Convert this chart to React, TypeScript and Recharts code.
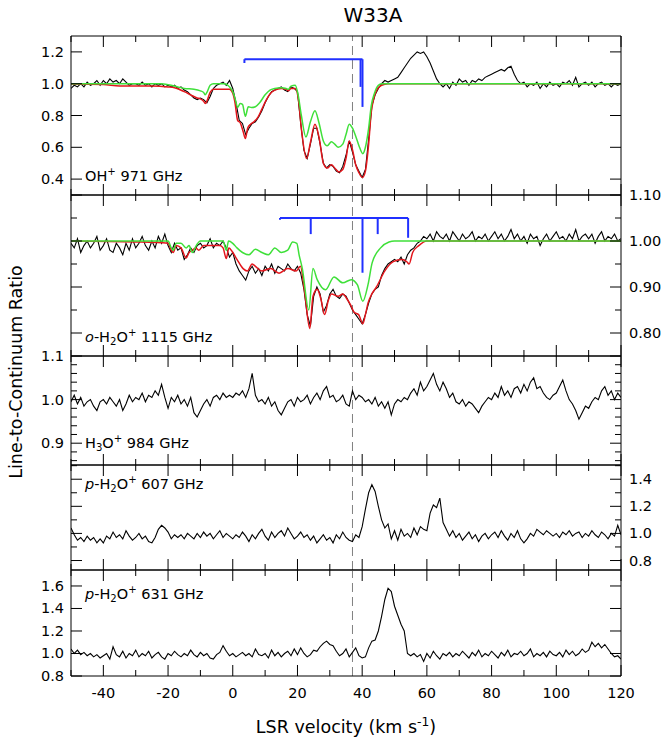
import React from 'react';
import { Line, LineChart, ReferenceLine, XAxis, YAxis } from 'recharts';

const FONT = '"DejaVu Sans", Verdana, sans-serif';
const W = 663;
const PLOT_LEFT = 71;
const PLOT_RIGHT = 621;
const PAD = 14;

// spectra are sampled on a 1 km/s channel grid starting at -50 km/s
const VEL_START = -50;
const VEL_STEP = 1;
const VSYS = 37;

const velTicks = [-50, -40, -30, -20, -10, 0, 10, 20, 30, 40, 50, 60, 70, 80, 90, 100, 110, 120];
const velLabels = [-40, -20, 0, 20, 40, 60, 80, 100, 120];

// OH+ 971 GHz
const ohFlux = [
  0.97, 0.99, 0.98, 1.0, 0.98, 1.01, 0.99, 1.0, 1.02, 0.99,
  1.02, 1.0, 1.03, 1.01, 1.02, 1.0, 1.03, 1.01, 0.99, 1.0,
  1.0, 0.99, 1.01, 0.99, 1.0, 0.98, 1.0, 0.99, 1.0, 0.98,
  0.99, 0.98, 0.99, 0.97, 0.98, 0.96, 0.95, 0.93, 0.91, 0.9,
  0.91, 0.9, 0.88, 0.92, 0.97, 0.99, 1.0, 1.01, 0.99, 1.02,
  0.97, 0.88, 0.77, 0.75, 0.68, 0.72, 0.75, 0.76, 0.79, 0.83,
  0.88, 0.92, 0.95, 0.96, 0.97, 0.98, 0.96, 0.95, 0.98, 0.97,
  0.95, 0.75, 0.58, 0.53, 0.62, 0.72, 0.72, 0.62, 0.5, 0.47,
  0.49, 0.48, 0.45, 0.44, 0.48, 0.55, 0.64, 0.57, 0.49, 0.45,
  0.41, 0.46, 0.65, 0.86, 0.93, 0.97, 1.0, 1.02, 1.01, 1.02,
  1.03, 1.04, 1.07, 1.1, 1.13, 1.16, 1.18, 1.2, 1.19, 1.2,
  1.17, 1.13, 1.08, 1.03, 1.0, 0.98, 1.0, 0.97, 1.01, 0.99,
  1.03, 1.01, 1.02, 0.99, 1.02, 1.01, 1.03, 1.02, 1.04, 1.05,
  1.06, 1.07, 1.08, 1.09, 1.08, 1.1, 1.11, 1.06, 1.02, 1.0,
  1.01, 0.98, 1.0, 0.99, 1.01, 0.97, 1.0, 0.98, 1.01, 0.99,
  1.0, 0.98, 1.01, 1.0, 1.02, 0.99, 1.04, 0.98, 1.0, 1.01,
  0.99, 1.01, 0.98, 1.0, 1.01, 0.99, 1.0, 0.98, 1.0, 0.99,
  1.0,
];

const ohRed = [
  [-50, 0.998], [-40, 0.995], [-35, 0.985], [-25, 0.985], [-20, 0.98], [-18, 0.975],
  [-15, 0.95], [-13, 0.93], [-11, 0.91], [-10, 0.905], [-9, 0.89], [-8.5, 0.875],
  [-8, 0.89], [-7, 0.945], [-6, 0.965], [-1, 0.965], [0, 0.94], [0.7, 0.88],
  [1.5, 0.77], [2.3, 0.755], [3.2, 0.7], [3.9, 0.655], [4.6, 0.72], [5.5, 0.745],
  [6.5, 0.76], [7.8, 0.79], [9, 0.84], [10.4, 0.9], [11.7, 0.94], [13, 0.96],
  [15, 0.97], [16.5, 0.965], [17.2, 0.955], [18, 0.97], [19.3, 0.97], [20.3, 0.9],
  [21.3, 0.7], [22.8, 0.53], [24, 0.63], [25.4, 0.745], [26.7, 0.66], [28, 0.5],
  [29.2, 0.47], [30.5, 0.49], [31.5, 0.47], [32.8, 0.445], [34, 0.46], [35, 0.53],
  [36, 0.64], [37, 0.585], [38, 0.49], [39, 0.44], [40.1, 0.41], [41, 0.45],
  [42, 0.62], [42.8, 0.82], [43.5, 0.9], [44.5, 0.96], [46, 0.99], [48, 1.0], [120, 1.0],
];

const ohGreen = [
  [-50, 1.0], [-22, 1.0], [-18, 0.985], [-15, 0.97], [-12, 0.965], [-10, 0.955],
  [-9, 0.945], [-8.5, 0.93], [-8, 0.945], [-7, 0.99], [-6, 1.0], [-2.5, 1.0],
  [-1, 0.98], [0, 0.95], [0.8, 0.9], [1.5, 0.85], [2.3, 0.875], [3, 0.87],
  [3.9, 0.795], [4.8, 0.855], [5.8, 0.85], [7, 0.855], [8.3, 0.88], [10, 0.93],
  [11.5, 0.96], [13, 0.97], [15, 0.975], [16.5, 0.97], [17.2, 0.965], [18, 0.985],
  [19.3, 0.99], [20.2, 0.93], [21.2, 0.8], [22.6, 0.665], [24, 0.76], [25.4, 0.83],
  [26.7, 0.75], [28, 0.64], [29.2, 0.61], [30.5, 0.635], [31.5, 0.62], [32.6, 0.6],
  [34, 0.62], [35, 0.68], [36, 0.745], [37, 0.72], [38, 0.67], [39, 0.61],
  [40.2, 0.56], [41, 0.6], [42, 0.72], [42.8, 0.86], [43.8, 0.94], [45, 0.99],
  [46, 1.0], [120, 1.0],
];

const ohHfsVel = [3.6, 39.5, 40.1];
const ohHfsEnd = [1.13, 0.98, 0.854];
const ohHfsBar = 1.154;

// o-H2O+ 1115 GHz
const h2oFlux = [
  0.995, 0.985, 1.005, 0.975, 0.99, 1.0, 0.985, 0.995, 1.01, 0.98,
  0.99, 1.005, 0.98, 0.975, 0.995, 0.985, 0.97, 0.995, 0.98, 1.005,
  0.985, 0.995, 1.01, 0.99, 0.98, 1.0, 0.985, 1.01, 0.995, 1.015,
  0.99, 0.975, 0.995, 0.98, 0.985, 0.96, 0.97, 0.985, 0.975, 0.99,
  0.995, 0.985, 0.99, 1.005, 0.985, 0.995, 0.99, 1.0, 0.985, 0.965,
  0.975, 0.95, 0.935, 0.925, 0.915, 0.935, 0.945, 0.93, 0.94, 0.925,
  0.945, 0.935, 0.95, 0.93, 0.945, 0.94, 0.935, 0.95, 0.94, 0.935,
  0.945, 0.93, 0.895, 0.84, 0.815, 0.88, 0.9, 0.885, 0.845, 0.86,
  0.885, 0.895, 0.88, 0.875, 0.885, 0.88, 0.865, 0.85, 0.84, 0.83,
  0.82, 0.84, 0.865, 0.885, 0.895, 0.9, 0.925, 0.94, 0.95, 0.955,
  0.96, 0.955, 0.965, 0.95, 0.97, 0.98, 0.985, 0.995, 1.0, 1.01,
  1.005, 1.015, 1.0, 1.02, 1.01, 1.005, 1.015, 1.0, 1.02, 1.01,
  1.0, 1.015, 1.005, 1.01, 1.02, 1.0, 1.01, 1.005, 1.015, 1.0,
  1.01, 1.02, 1.005, 1.015, 1.0, 1.01, 1.025, 1.005, 1.015, 1.0,
  1.01, 0.995, 1.015, 1.005, 1.01, 0.99, 1.005, 1.015, 1.0, 1.01,
  1.02, 1.005, 1.01, 1.0, 1.015, 1.005, 1.025, 1.0, 1.01, 1.015,
  1.005, 1.015, 0.995, 1.01, 1.02, 1.0, 1.01, 1.005, 1.015, 1.0,
  1.005,
];

const h2oRed = [
  [-50, 1.0], [-30, 0.998], [-20, 0.995], [-19, 0.98], [-18.4, 0.975], [-17.5, 0.99],
  [-16, 0.985], [-14.4, 0.963], [-13.5, 0.975], [-12.5, 0.98], [-11.5, 0.985], [-10.5, 0.98],
  [-9, 0.99], [-4, 0.99], [-3, 0.985], [-2, 0.962], [-1.2, 0.985], [0, 0.975],
  [1.3, 0.96], [3.2, 0.94], [4.5, 0.935], [6, 0.95], [7, 0.945], [9, 0.935],
  [11.7, 0.94], [14.3, 0.93], [17, 0.94], [19.6, 0.935], [20.9, 0.945], [22.2, 0.89],
  [23.8, 0.81], [24.8, 0.88], [26.1, 0.895], [27.2, 0.875], [28.4, 0.84], [29.5, 0.87],
  [30.5, 0.885], [32.6, 0.88], [34, 0.885], [35.2, 0.875], [36.5, 0.86], [37.5, 0.845],
  [38.9, 0.84], [39.5, 0.83], [40.2, 0.82], [41, 0.84], [41.8, 0.865], [43, 0.885],
  [44.4, 0.9], [47, 0.935], [49.6, 0.955], [52.3, 0.96], [53.8, 0.955], [54.5, 0.95],
  [55.6, 0.975], [57.5, 0.99], [60, 1.0], [120, 1.0],
];

const h2oGreen = [
  [-50, 1.0], [-20, 1.0], [-19, 0.985], [-18.4, 0.98], [-17.5, 0.995], [-16, 0.995],
  [-14.4, 0.985], [-13.5, 0.99], [-12.5, 0.975], [-11.3, 0.99], [-10, 1.0], [-3, 1.0],
  [-2, 0.98], [-1.3, 1.0], [0, 0.995], [1.3, 0.985], [3, 0.975], [5, 0.97],
  [7, 0.982], [9, 0.975], [11, 0.97], [13, 0.985], [15, 0.975], [17, 0.98],
  [18.5, 0.998], [19.8, 0.995], [20.5, 0.97], [21.5, 0.94], [23.5, 0.85], [24.8, 0.94],
  [26.1, 0.916], [28.7, 0.894], [31.3, 0.922], [34, 0.909], [36.6, 0.916], [38.5, 0.905],
  [40.2, 0.869], [41.8, 0.905], [43.1, 0.953], [45.7, 0.985], [48.3, 0.998], [50, 1.0],
  [120, 1.0],
];

const h2oHfsVel = [14.6, 24.1, 40.1, 44.8, 54.2];
const h2oHfsEnd = [1.046, 1.015, 0.931, 1.015, 1.007];
const h2oHfsBar = 1.05;

// H3O+ 984 GHz
const h3oFlux = [
  0.995, 1.01, 0.99, 1.005, 0.985, 0.995, 1.0, 0.985, 0.975, 0.995,
  1.0, 0.99, 1.005, 0.995, 0.985, 1.0, 0.975, 0.99, 1.01, 0.995,
  1.005, 1.0, 1.015, 0.995, 1.01, 1.005, 1.02, 1.01, 1.035, 1.005,
  0.98, 1.005, 0.995, 1.01, 0.99, 1.0, 0.985, 1.005, 0.97, 0.96,
  0.975, 0.99, 1.0, 0.985, 1.005, 1.01, 1.0, 1.015, 1.005, 1.01,
  1.005, 1.015, 1.01, 1.02, 1.005, 1.025, 1.06, 1.01, 0.995, 1.0,
  0.99, 1.005, 0.985, 0.995, 0.975, 0.965, 0.98, 0.995, 1.0, 0.985,
  1.005, 0.995, 1.0, 1.01, 0.99, 1.005, 1.015, 1.0, 1.02, 1.03,
  1.005, 1.01, 0.995, 1.0, 1.01, 0.99, 0.985, 1.02, 1.0, 1.01,
  1.005, 0.995, 1.0, 0.99, 1.005, 0.985, 0.995, 0.98, 0.995, 0.965,
  0.99, 1.0, 0.995, 1.005, 1.0, 1.015, 1.025, 1.01, 1.04, 1.02,
  1.03, 1.045, 1.06, 1.035, 1.02, 1.04, 1.025, 1.005, 1.015, 0.995,
  0.99, 1.0, 0.985, 0.995, 0.99, 0.98, 0.97, 0.985, 0.995, 1.005,
  1.0, 1.015, 1.005, 1.03, 1.01, 1.02, 1.005, 1.025, 1.03, 1.015,
  1.035, 1.02, 1.04, 1.05, 1.025, 1.03, 1.015, 1.005, 1.0, 1.01,
  1.015, 1.03, 1.045, 1.02, 1.0, 0.99, 0.975, 0.955, 0.97, 0.985,
  0.98, 0.995, 1.005, 1.0, 1.02, 1.03, 1.01, 1.02, 1.0, 1.015,
  1.005,
];

// p-H2O+ 607 GHz
const p607Flux = [
  1.04, 0.99, 0.95, 0.97, 0.94, 0.98, 0.95, 0.97, 0.93, 0.96,
  0.93, 0.98, 0.96, 1.01, 0.97, 0.99, 0.96, 1.02, 0.98, 0.95,
  0.97, 1.0, 0.96, 0.98, 0.94, 0.93, 0.97, 1.03, 1.06, 1.04,
  1.01, 0.96, 0.99, 0.97, 0.99, 0.96, 1.0, 0.98, 0.96, 1.0,
  0.97, 1.01, 0.98, 1.0, 0.96, 0.99, 1.02, 0.97, 1.0, 0.98,
  0.96, 0.99, 0.97, 1.01, 0.98, 0.94, 0.99, 0.96, 1.0, 1.03,
  0.98, 0.95, 1.01, 0.97, 1.0, 1.02, 0.98, 1.04, 1.0, 0.96,
  0.98, 1.01, 0.97, 0.99, 0.95, 0.98, 0.93, 0.96, 0.99, 0.95,
  0.97, 0.93, 0.99, 0.96, 1.01, 0.97, 0.95, 0.94, 0.99, 0.97,
  1.05, 1.18, 1.3, 1.36, 1.31, 1.2, 1.1, 1.04, 1.07, 0.96,
  1.02, 0.95, 1.03, 0.98, 1.0, 0.97, 1.04, 0.99, 1.05, 1.03,
  1.02, 1.15, 1.21, 1.19, 1.26, 1.08, 1.03, 0.98, 1.02, 0.97,
  1.0, 0.95, 0.98, 1.01, 0.96, 0.99, 0.94, 0.98, 1.0, 0.96,
  0.99, 1.01, 0.97, 1.02, 0.98, 0.95, 1.0, 0.97, 1.02, 0.96,
  0.93, 0.96, 1.0, 0.98, 1.03, 1.01, 0.99, 1.02, 1.0, 0.98,
  1.0, 0.97, 1.01, 0.99, 1.02, 0.98, 1.0, 1.01, 0.97, 1.0,
  0.98, 1.02, 0.99, 0.97, 1.01, 0.99, 0.96, 1.0, 0.98, 1.06,
  0.99,
];

// p-H2O+ 631 GHz
const p631Flux = [
  1.04, 1.0, 1.03, 0.99, 1.01, 0.98, 1.0, 0.97, 0.99, 0.96,
  0.98, 1.0, 0.95, 1.06, 0.99, 0.97, 1.02, 0.96, 1.0, 0.98,
  1.03, 0.97, 1.0, 0.98, 1.02, 0.96, 0.99, 1.01, 0.97, 0.95,
  1.0, 0.98, 1.02, 0.99, 0.97, 1.0, 0.98, 1.03, 0.99, 0.97,
  1.01, 0.98, 1.0, 0.96, 0.95, 0.99, 1.01, 1.07, 1.02, 0.98,
  1.0, 0.97, 0.99, 1.01, 0.98, 1.0, 0.97, 1.04, 0.99, 0.98,
  1.0, 0.96, 1.03, 0.98, 1.01, 0.97, 1.0, 1.02, 0.98, 1.04,
  0.99, 1.05, 1.0, 0.97, 0.99, 1.03, 1.02, 1.06, 1.09, 1.11,
  1.08, 1.07, 1.02, 0.98, 1.0, 1.04, 0.97, 1.01, 1.05, 0.98,
  0.96, 0.97, 1.05, 1.11, 1.12, 1.2, 1.33, 1.48, 1.58, 1.55,
  1.42, 1.34, 1.26, 1.2, 1.0, 0.98, 1.0, 0.97, 0.99, 0.93,
  1.0, 0.96, 1.02, 0.98, 0.95, 1.0, 0.98, 1.01, 0.97, 1.0,
  0.98, 1.02, 0.99, 0.96, 1.01, 0.98, 1.03, 0.97, 1.0, 0.98,
  1.02, 0.99, 0.96, 1.01, 0.98, 1.03, 0.97, 1.0, 0.99, 1.02,
  0.98, 1.0, 1.04, 0.97, 1.0, 0.98, 1.01, 0.97, 1.02, 0.99,
  0.98, 1.01, 0.97, 1.03, 0.99, 1.02, 0.98, 1.0, 1.04, 1.01,
  1.03, 1.1, 1.06, 1.09, 1.05, 1.08, 1.04, 1.0, 0.97, 0.98,
  0.95,
];

const spectrum = (flux: number[]) => flux.map((y, i) => ({ v: VEL_START + i * VEL_STEP, y }));
const model = (pts: number[][]) => pts.map(([v, y]) => ({ v, y }));

const near = (list: number[], v: number) => list.some((t) => Math.abs(t - v) < 1e-6);
const textStyle = { fontSize: 14.5, fontFamily: FONT, fill: '#000' };

function makeTick(side: string, labels: number[], major: number[], digits: number) {
  return (props: any) => {
    const { x, y, payload } = props;
    const val = payload.value;
    const len = near(major, val) ? 11 : 6;
    const label = near(labels, val) ? val.toFixed(digits) : null;
    if (side === 'bottom' || side === 'top') {
      const dir = side === 'bottom' ? -1 : 1;
      return (
        <g>
          <line x1={x} y1={y} x2={x} y2={y + dir * len} stroke="#000" />
          {label && (
            <text x={x} y={y + 17} textAnchor="middle" dominantBaseline="central" style={textStyle}>
              {label}
            </text>
          )}
        </g>
      );
    }
    const dir = side === 'left' ? 1 : -1;
    return (
      <g>
        <line x1={x} y1={y} x2={x + dir * len} y2={y} stroke="#000" />
        {label && (
          <text
            x={side === 'left' ? x - 7 : x + 8}
            y={y}
            textAnchor={side === 'left' ? 'end' : 'start'}
            dominantBaseline="central"
            style={textStyle}
          >
            {label}
          </text>
        )}
      </g>
    );
  };
}

// axes are 1px thick boxes (recharts skips zero-sized axes), margins compensate
function Panel({
  top, bottom, domain, yTicks, yMajor, yLabels, labelSide, digits, showVel = false, children,
}: any) {
  const padBottom = showVel ? 30 : PAD;
  const common = { type: 'number' as const, interval: 0 as const, tickSize: 0, tickMargin: 0, tickLine: false, axisLine: { stroke: '#000' }, allowDataOverflow: true };
  return (
    <div style={{ position: 'absolute', left: 0, top: top - PAD }}>
      <LineChart
        width={W}
        height={bottom - top + PAD + padBottom}
        margin={{ top: PAD - 1, bottom: padBottom - 1, left: PLOT_LEFT - 1, right: W - PLOT_RIGHT - 1 }}
      >
        <XAxis xAxisId="b" dataKey="v" domain={[-50, 120]} ticks={velTicks} height={1} {...common}
          tick={makeTick('bottom', showVel ? velLabels : [], velLabels, 0)} />
        <XAxis xAxisId="t" orientation="top" dataKey="v" domain={[-50, 120]} ticks={velTicks} height={1} {...common}
          tick={makeTick('top', [], velLabels, 0)} />
        <YAxis yAxisId="l" domain={domain} ticks={yTicks} width={1} {...common}
          tick={makeTick('left', labelSide === 'left' ? yLabels : [], yMajor, digits)} />
        <YAxis yAxisId="r" orientation="right" domain={domain} ticks={yTicks} width={1} {...common}
          tick={makeTick('right', labelSide === 'right' ? yLabels : [], yMajor, digits)} />
        <ReferenceLine x={VSYS} xAxisId="b" yAxisId="l" stroke="#808080" strokeDasharray="9 5" />
        {children}
      </LineChart>
    </div>
  );
}

function trace(key: string, data: any[], color: string, width: number, smooth = false) {
  return (
    <Line key={key} data={data} dataKey="y" xAxisId="b" yAxisId="l" type={smooth ? 'monotone' : 'linear'}
      dot={false} stroke={color} strokeWidth={width} isAnimationActive={false} />
  );
}

function hfs(key: string, vels: number[], ends: number[], bar: number) {
  const props = { xAxisId: 'b', yAxisId: 'l', stroke: '#2030ff', strokeWidth: 2 };
  return [
    <ReferenceLine key={key + 'bar'} segment={[{ x: vels[0], y: bar }, { x: vels[vels.length - 1], y: bar }]} {...props} />,
    ...vels.map((v, i) => (
      <ReferenceLine key={key + i} segment={[{ x: v, y: bar }, { x: v, y: ends[i] }]} {...props} />
    )),
  ];
}

const Sup = ({ children }: any) => (
  <span style={{ fontSize: '0.7em', position: 'relative', top: '-0.55em' }}>{children}</span>
);
const Sub = ({ children }: any) => (
  <span style={{ fontSize: '0.7em', position: 'relative', top: '0.3em' }}>{children}</span>
);

function Tag({ y, children }: any) {
  return (
    <div style={{ position: 'absolute', left: 85, top: y - 9, fontFamily: FONT, fontSize: 14.5, lineHeight: '18px', whiteSpace: 'nowrap' }}>
      {children}
    </div>
  );
}

const BLACK = '#000';
const RED = '#e3161c';
const GREEN = '#3fe03a';

export default function App() {
  return (
    <div style={{ position: 'absolute', left: 0, top: 0, width: W, height: 746, background: '#fff' }}>
      <div style={{ position: 'absolute', left: 373, top: 3, transform: 'translateX(-50%)', fontFamily: FONT, fontSize: 20, lineHeight: '24px' }}>
        W33A
      </div>

      <Panel top={36} bottom={195} domain={[0.3, 1.3]} yTicks={[0.4, 0.6, 0.8, 1.0, 1.2]}
        yMajor={[0.4, 0.6, 0.8, 1.0, 1.2]} yLabels={[0.4, 0.6, 0.8, 1.0, 1.2]} labelSide="left" digits={1}>
        {trace('oh', spectrum(ohFlux), BLACK, 1.1)}
        {trace('ohr', model(ohRed), RED, 1.5, true)}
        {trace('ohg', model(ohGreen), GREEN, 1.5, true)}
        {hfs('ohh', ohHfsVel, ohHfsEnd, ohHfsBar)}
      </Panel>

      <Panel top={195} bottom={356} domain={[0.75, 1.1]} yTicks={[0.8, 0.85, 0.9, 0.95, 1.0, 1.05, 1.1]}
        yMajor={[0.8, 0.9, 1.0, 1.1]} yLabels={[0.8, 0.9, 1.0, 1.1]} labelSide="right" digits={2}>
        {trace('h2o', spectrum(h2oFlux), BLACK, 1.1)}
        {trace('h2or', model(h2oRed), RED, 1.5, true)}
        {trace('h2og', model(h2oGreen), GREEN, 1.5, true)}
        {hfs('h2oh', h2oHfsVel, h2oHfsEnd, h2oHfsBar)}
      </Panel>

      <Panel top={356} bottom={465} domain={[0.85, 1.1]}
        yTicks={[0.86, 0.88, 0.9, 0.92, 0.94, 0.96, 0.98, 1.0, 1.02, 1.04, 1.06, 1.08, 1.1]}
        yMajor={[0.9, 1.0, 1.1]} yLabels={[0.9, 1.0, 1.1]} labelSide="left" digits={1}>
        {trace('h3o', spectrum(h3oFlux), BLACK, 1.1)}
      </Panel>

      <Panel top={465} bottom={570} domain={[0.73, 1.505]} yTicks={[0.8, 0.9, 1.0, 1.1, 1.2, 1.3, 1.4, 1.5]}
        yMajor={[0.8, 1.0, 1.2, 1.4]} yLabels={[0.8, 1.0, 1.2, 1.4]} labelSide="right" digits={1}>
        {trace('p607', spectrum(p607Flux), BLACK, 1.1)}
      </Panel>

      <Panel top={570} bottom={676} domain={[0.8, 1.742]} yTicks={[0.8, 1.0, 1.2, 1.4, 1.6]}
        yMajor={[0.8, 1.0, 1.2, 1.4, 1.6]} yLabels={[0.8, 1.0, 1.2, 1.4, 1.6]} labelSide="left" digits={1} showVel>
        {trace('p631', spectrum(p631Flux), BLACK, 1.1)}
      </Panel>

      <Tag y={176}>OH<Sup>+</Sup> 971 GHz</Tag>
      <Tag y={337}><i>o</i>-H<Sub>2</Sub>O<Sup>+</Sup> 1115 GHz</Tag>
      <Tag y={443}>H<Sub>3</Sub>O<Sup>+</Sup> 984 GHz</Tag>
      <Tag y={484}><i>p</i>-H<Sub>2</Sub>O<Sup>+</Sup> 607 GHz</Tag>
      <Tag y={594}><i>p</i>-H<Sub>2</Sub>O<Sup>+</Sup> 631 GHz</Tag>

      <div style={{ position: 'absolute', left: 346, top: 716, transform: 'translateX(-50%)', fontFamily: FONT, fontSize: 17.5, lineHeight: '22px', whiteSpace: 'nowrap' }}>
        LSR velocity (km s<Sup>-1</Sup>)
      </div>
      <div style={{ position: 'absolute', left: 16, top: 372, transform: 'translate(-50%, -50%) rotate(-90deg)', fontFamily: FONT, fontSize: 17.5, lineHeight: '22px', whiteSpace: 'nowrap' }}>
        Line-to-Continuum Ratio
      </div>
    </div>
  );
}
